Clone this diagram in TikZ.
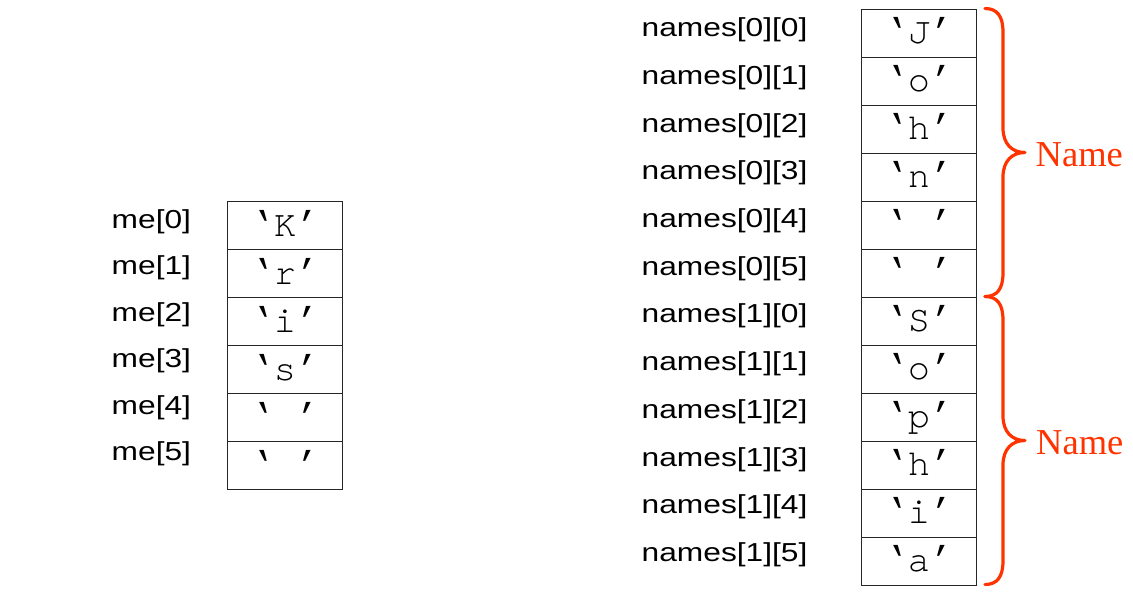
\documentclass[tikz,border=0pt]{standalone}
\usepackage{fontspec}
\usepackage{graphicx}
\newfontfamily\labfont{Liberation Sans}[FakeStretch=1.22]
\newfontfamily\quotefont{Liberation Mono}
\newfontfamily\cellfont{TeX Gyre Cursor}
\newfontfamily\notefont{Liberation Serif}
\usetikzlibrary{calc}
\definecolor{bracecol}{HTML}{FF3300}
\newcommand\cellchar[1]{\reflectbox{\quotefont ’}{\cellfont\fontsize{37}{37}\selectfont #1}{\quotefont ’}}
\begin{document}
\begin{tikzpicture}[x=1pt,y=-1pt,
  cellbox/.style={draw=black!85,line width=1pt,minimum width=115pt,minimum height=48pt,inner sep=0pt,anchor=north west,text height=22pt,text depth=1pt,font=\fontsize{36}{36}\selectfont},
  idxlabel/.style={anchor=base west,inner sep=0pt,font=\labfont\fontsize{26}{26}\selectfont},
  bracepath/.style={draw=bracecol,line width=3.2pt,line cap=round,line join=round},
  notelabel/.style={anchor=base west,inner sep=0pt,text=bracecol,font=\notefont\fontsize{36.5}{36.5}\selectfont}]
\useasboundingbox (0,0) rectangle (1133,616);
% left array
\foreach \c [count=\i from 0] in {K,r,i,s,{\ },{\ }} {
  \node[cellbox] (me\i) at (227,{201+48*\i}) {\cellchar{\c}};
  \node[idxlabel] (mel\i) at (111.5,{228.3+46.5*\i}) {me[\i]};
}
% right array
\foreach \c [count=\i from 0] in {J,o,h,n,{\ },{\ },S,o,p,h,i,a} {
  \pgfmathtruncatemacro\rr{int(\i/6)}
  \pgfmathtruncatemacro\kk{mod(\i,6)}
  \node[cellbox] (nm\i) at (861,{8.5+48*\i}) {\cellchar{\c}};
  \node[idxlabel] (nml\i) at (641.5,{36.7+47.7*\i}) {names[\rr][\kk]};
}
% braces
\draw[bracepath] (985,8.5) .. controls (997,8.5) and (1003,16) .. (1003,32)
  -- (1003,128) .. controls (1003,144) and (1012,152.5) .. (1025,152.5)
  .. controls (1012,152.5) and (1003,161) .. (1003,177)
  -- (1003,273) .. controls (1003,289) and (997,296.5) .. (985,296.5);
\draw[bracepath] (985,296.5) .. controls (997,296.5) and (1003,304) .. (1003,320)
  -- (1003,416) .. controls (1003,432) and (1012,440.5) .. (1025,440.5)
  .. controls (1012,440.5) and (1003,449) .. (1003,465)
  -- (1003,561) .. controls (1003,577) and (997,584.5) .. (985,584.5);
\node[notelabel] (note1) at (1035.5,166.7) {Name};
\node[notelabel] (note2) at (1036,454) {Name};
\end{tikzpicture}
\end{document}
